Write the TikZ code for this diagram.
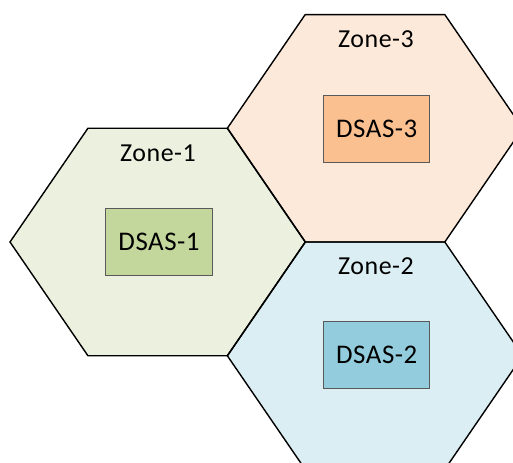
\documentclass[tikz,border=0pt]{standalone}
\usepackage{fontspec}
\setmainfont{Carlito}[LetterSpace=2]
\definecolor{z1}{RGB}{235,241,222}
\definecolor{d1}{RGB}{195,214,155}
\definecolor{z3}{RGB}{253,233,217}
\definecolor{d3}{RGB}{250,192,144}
\definecolor{z2}{RGB}{219,238,244}
\definecolor{d2}{RGB}{147,205,221}
\begin{document}
\begin{tikzpicture}[x=1bp,y=-1bp,
  hexa/.style={draw=black,line width=1.4bp,line join=miter},
  dsas/.style={draw=black!65,line width=1bp,minimum width=106.5bp,minimum height=66.7bp,inner sep=0pt,font=\fontsize{27}{30}\selectfont},
  zlabel/.style={font=\fontsize{26}{29}\selectfont,inner sep=0pt}]
\useasboundingbox (0,0) rectangle (513,463);
\begin{scope}
\clip (0,0) rectangle (513,463);
\newcommand\hexpath[2]{(#1-147.7,#2) -- (#1-69.8,#2-113.7) -- (#1+69.8,#2-113.7) -- (#1+147.7,#2) -- (#1+69.8,#2+113.7) -- (#1-69.8,#2+113.7) -- cycle}
\fill[z1] \hexpath{157.7}{242};
\fill[z3] \hexpath{375}{128.3};
\fill[z2] \hexpath{375}{355.7};
\draw[hexa] \hexpath{157.7}{242};
\draw[hexa] \hexpath{375}{128.3};
\draw[hexa] \hexpath{375}{355.7};
\end{scope}
\node[dsas,fill=d1] (ds1) at (159,241.7) {DSAS-1};
\node[dsas,fill=d3] (ds3) at (376.7,128.7) {DSAS-3};
\node[dsas,fill=d2] (ds2) at (376.7,355.3) {DSAS-2};
\node[zlabel] (zn1) at (158,153) {Zone-1};
\node[zlabel] (zn3) at (376,39) {Zone-3};
\node[zlabel] (zn2) at (376,266) {Zone-2};
\end{tikzpicture}
\end{document}
